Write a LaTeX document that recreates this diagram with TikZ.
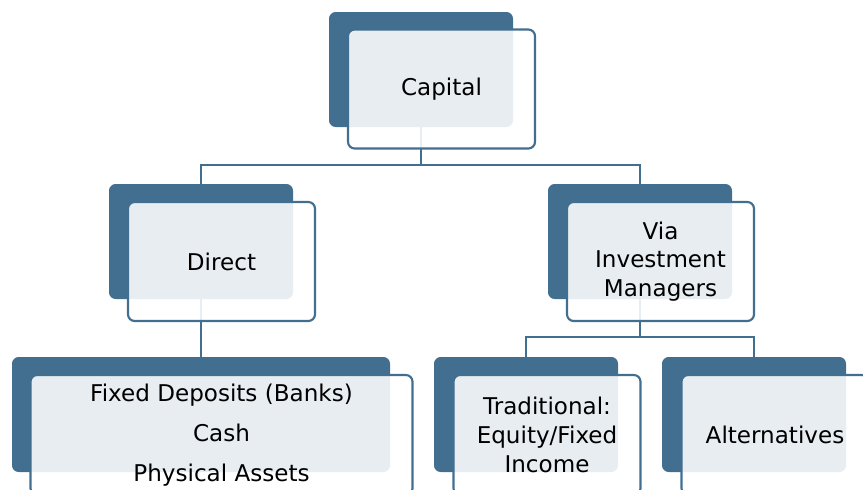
\documentclass[tikz,border=0pt]{standalone}
\usepackage{fontspec}
\setmainfont{DejaVu Sans}
\usetikzlibrary{calc,positioning}
\definecolor{smblue}{RGB}{66,110,144}
\tikzset{
  backbox/.style={fill=smblue, rounded corners=5pt, minimum width=138pt,
    minimum height=86.25pt, inner sep=0pt},
  frontbox/.style={draw=smblue, line width=1.6pt, fill=white, fill opacity=0.88,
    text opacity=1, rounded corners=5pt, minimum width=140.25pt,
    minimum height=89.25pt, inner sep=0pt, align=center,
    font=\fontsize{17.3}{21.5}\selectfont},
  link/.style={draw=smblue, line width=1.75pt}
}
\begin{document}
\begin{tikzpicture}[x=0.75pt,y=-0.75pt]
  \clip (0,0) rectangle (863,489);
  % Back boxes
  \node[backbox] (capB) at (421,69.5) {};
  \node[backbox] (dirB) at (201,241.5) {};
  \node[backbox] (viaB) at (640,241.5) {};
  \node[backbox, minimum width=283.5pt] (fixB) at (201,414.5) {};
  \node[backbox] (tradB) at (526,414.5) {};
  \node[backbox] (altB) at (754,414.5) {};
  % Connectors
  \coordinate (busTop) at (421,165);
  \coordinate (busVia) at (640,337);
  \draw[link] (capB.south) -- (capB.south |- busTop) -| (dirB.north);
  \draw[link] (capB.south |- busTop) -| (viaB.north);
  \draw[link] (dirB.south) -- (fixB.north);
  \draw[link] (viaB.south) -- (busVia) -| (tradB.north);
  \draw[link] (busVia) -| (altB.north);
  % Front boxes
  \node[frontbox] (cap) at ($(capB)+(20.5,19.5)$) {Capital};
  \node[frontbox] (dir) at ($(dirB)+(20.5,20)$) {Direct};
  \node[frontbox] (via) at ($(viaB)+(20.5,20)$) {Via\\Investment\\Managers};
  \node[frontbox, minimum width=286.5pt, minimum height=90pt] (fix)
    at ($(fixB)+(20.5,20.5)$) {Fixed Deposits (Banks)\\[8.5pt]Cash\\[8pt]Physical Assets};
  \node[frontbox, minimum height=90pt] (trad) at ($(tradB)+(21,20.5)$)
    {Traditional:\\Equity/Fixed\\Income};
  \node[frontbox, minimum height=90pt] (alt) at ($(altB)+(21,20.5)$) {Alternatives};
\end{tikzpicture}
\end{document}
